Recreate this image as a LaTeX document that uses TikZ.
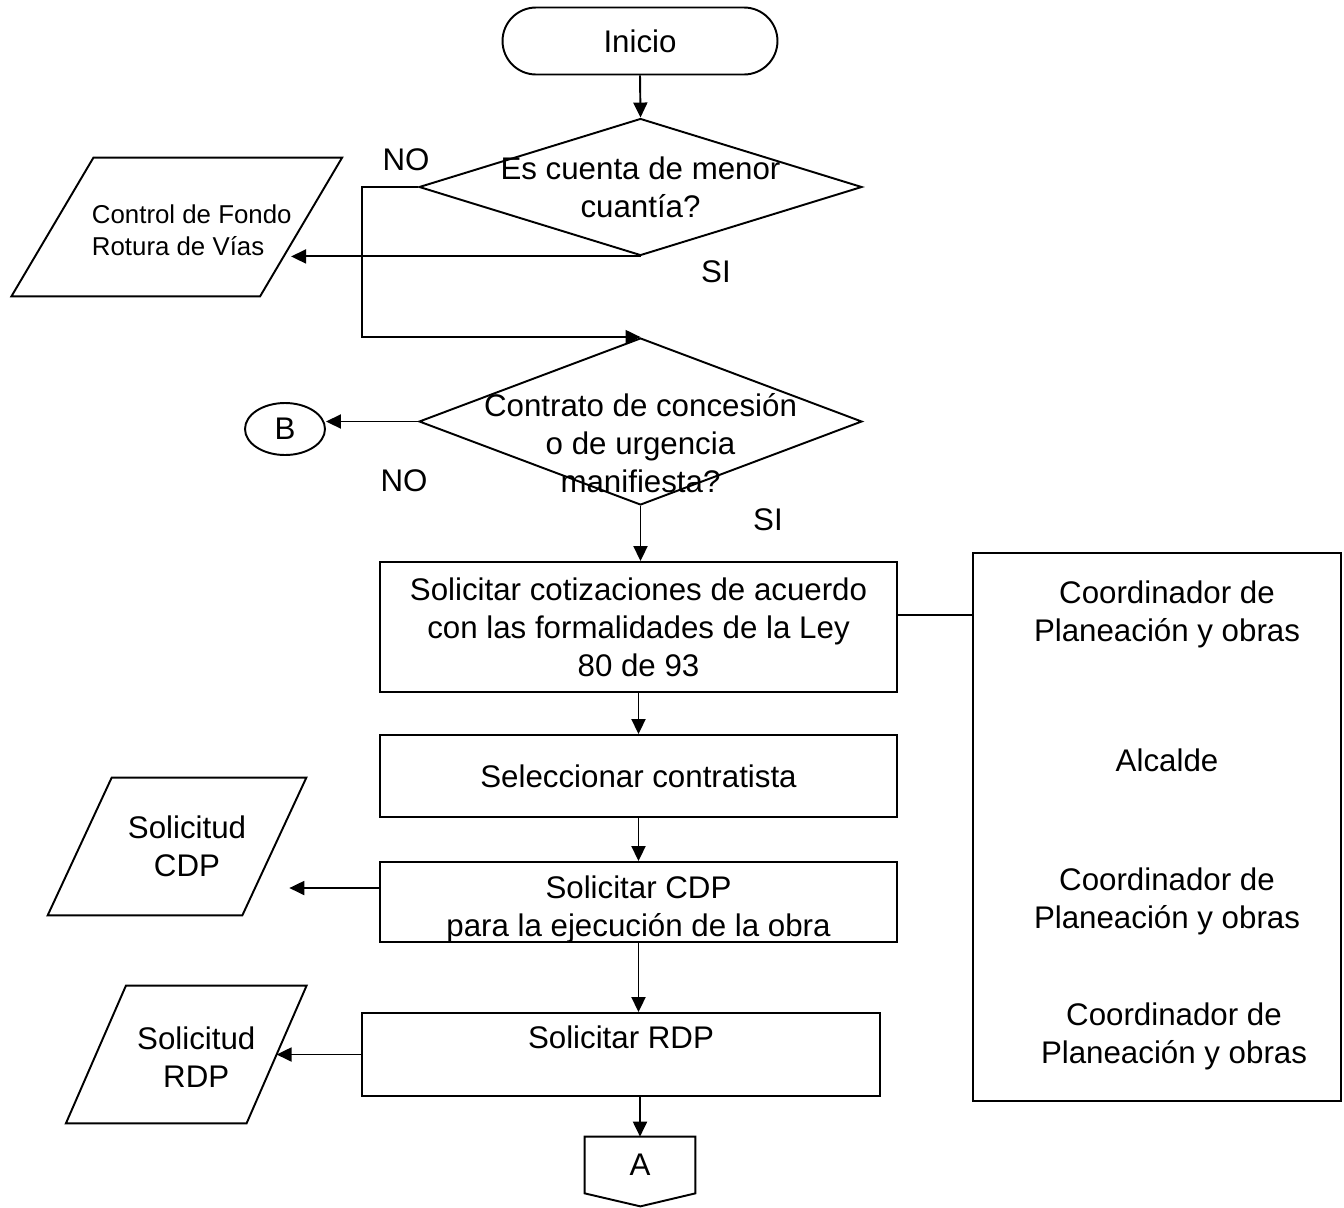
\documentclass[tikz,border=0pt]{standalone}
\usepackage{fontspec}
\setmainfont{Liberation Sans}
\usetikzlibrary{shapes.geometric, arrows.meta}

\begin{document}
\begin{tikzpicture}[x=0.02cm, y=-0.02cm,
  every node/.style={font=\fontsize{17.8}{21.6}\selectfont, align=center},
  box/.style={draw, line width=1.1pt},
  proc/.style={box, rectangle, minimum width=10.34cm, inner sep=0pt},
  decision/.style={box, diamond, minimum width=8.86cm, inner sep=0pt},
  datos/.style={rectangle, inner sep=0pt},
  flow/.style={line width=1.1pt, -{Triangle[length=0.3cm, width=0.28cm]}},
  link/.style={line width=1.1pt}]

  \useasboundingbox (0,0) rectangle (1344,1207);

  % Start
  \node[box, rounded corners=0.67cm, minimum width=5.5cm, minimum height=1.34cm] (inicio) at (640,41) {Inicio};

  % Decisions
  \node[decision, minimum height=2.74cm,
        label={center:Es cuenta de menor\\cuantía?}] (d1) at (640.5,187) {};
  \node[decision, minimum height=3.34cm,
        label={[yshift=-0.44cm]center:Contrato de concesión\\o de urgencia\\manifiesta?}] (d2) at (640.5,421.5) {};

  \node (no1) at (406,160) {NO};
  \node (si1) at (716,272) {SI};
  \node (no2) at (404,481) {NO};
  \node (si2) at (768,520) {SI};

  % Documents (slanted outline drawn round each node)
  \node[datos, minimum width=4.96cm, minimum height=2.76cm,
        label={[xshift=0.3cm, yshift=-0.06cm, font=\fontsize{14.7}{18.2}\selectfont, align=left]center:Control de Fondo\\Rotura de Vías}] (ctrl) at (176.75,227) {};
  \draw[link] ([xshift=-0.82cm]ctrl.south west) -- ([xshift=-0.82cm]ctrl.south east)
    -- ([xshift=0.82cm]ctrl.north east) -- ([xshift=0.82cm]ctrl.north west) -- cycle;

  \node[datos, minimum width=3.88cm, minimum height=2.74cm,
        label={[xshift=0.2cm]center:Solicitud\\CDP}] (cdp) at (177,846.5) {};
  \draw[link] ([xshift=-0.64cm]cdp.south west) -- ([xshift=-0.64cm]cdp.south east)
    -- ([xshift=0.64cm]cdp.north east) -- ([xshift=0.64cm]cdp.north west) -- cycle;

  \node[datos, minimum width=3.6cm, minimum height=2.74cm,
        label={[xshift=0.2cm, yshift=-0.05cm]center:Solicitud\\RDP}] (rdp) at (186.25,1054.5) {};
  \draw[link] ([xshift=-0.6cm]rdp.south west) -- ([xshift=-0.6cm]rdp.south east)
    -- ([xshift=0.6cm]rdp.north east) -- ([xshift=0.6cm]rdp.north west) -- cycle;

  % Connector B
  \node[box, ellipse, minimum width=1.6cm, minimum height=1.04cm, inner sep=0pt] (bcon) at (285,429) {B};

  % Process steps
  \node[proc, minimum height=2.6cm] (s1) at (638.5,627) {Solicitar cotizaciones de acuerdo\\con las formalidades de la Ley\\80 de 93};
  \node[proc, minimum height=1.64cm] (s2) at (638.5,776) {Seleccionar contratista};
  \node[proc, minimum height=1.6cm,
        label={[yshift=-0.15cm]center:Solicitar CDP\\para la ejecución de la obra}] (s3) at (638.5,902) {};
  \node[proc, minimum width=10.36cm, minimum height=1.66cm,
        label={[yshift=0.35cm]center:Solicitar RDP}] (s4) at (621,1054.5) {};

  % Responsibles
  \node[box, minimum width=7.36cm, minimum height=10.96cm] (roles) at (1157,827) {};
  \node (r1) at (1167,614) {Coordinador de\\Planeación y obras};
  \node (r2) at (1167,760) {Alcalde};
  \node (r3) at (1167,901.5) {Coordinador de\\Planeación y obras};
  \node (r4) at (1174,1036) {Coordinador de\\Planeación y obras};

  % Off-page connector A
  \node[minimum width=2.2cm, minimum height=1.12cm] (conA) at (640,1165) {A};
  \draw[link] (conA.north west) -- (conA.north east) -- (conA.south east) -- ++(-55,13) -- (conA.south west) -- cycle;

  % Connections
  \draw[flow] (inicio.south) -- (d1.north);
  \draw[flow] (d1.west) -- ++(-56,0) |- (d2.north);
  \draw[flow, shorten >=-0.2cm] (d1.south) -- (d1.south -| ctrl.east);
  \draw[flow] (d2.west) -- (d2.west -| bcon.east);
  \draw[flow] (d2.south) -- (d2.south |- s1.north);
  \draw[flow] (s1.south) -- (s2.north);
  \draw[flow] (s2.south) -- (s3.north);
  \draw[flow, shorten >=0.3cm] ([yshift=0.28cm]s3.west) -- ([yshift=0.28cm]s3.west -| cdp.east);
  \draw[flow] (s3.south) -- (s3.south |- s4.north);
  \draw[flow] (s4.west) -- (s4.west -| rdp.east);
  \draw[flow] (conA.north |- s4.south) -- (conA.north);
  \draw[link] ([yshift=0.24cm]s1.east) -- ([yshift=0.24cm]s1.east -| roles.west);

\end{tikzpicture}
\end{document}
